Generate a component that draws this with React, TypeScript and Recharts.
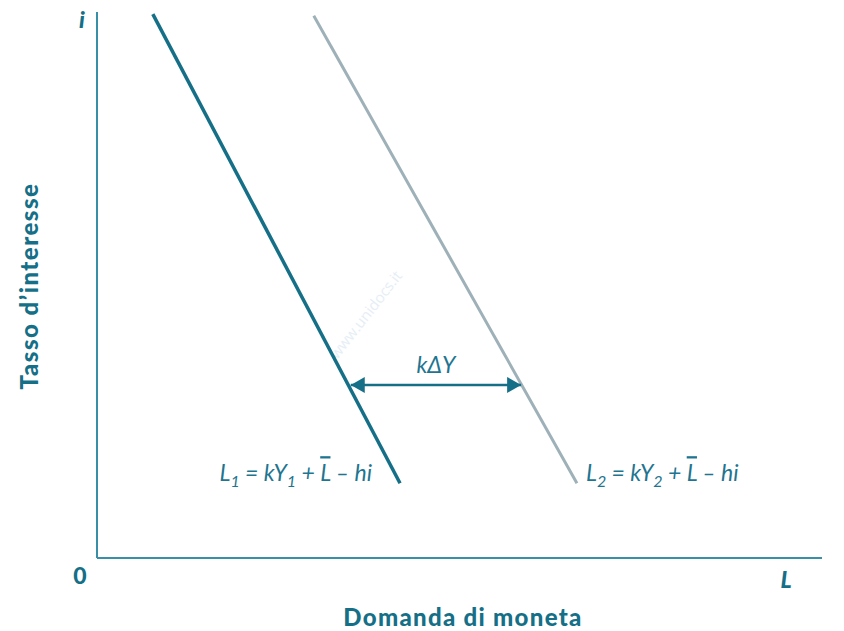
import { ComposedChart, Line, XAxis, YAxis, ReferenceDot, ReferenceLine } from "recharts"

// curve L1 and L2 endpoints (domain 0..100 on both axes)
const curveL1 = [
  { x: 7.7, y: 99.6 },
  { x: 41.8, y: 13.7 },
]
const curveL2 = [
  { x: 29.9, y: 99.3 },
  { x: 66.2, y: 13.7 },
]
// kΔY shift arrow
const shiftArrow = [
  { x: 35.0, y: 31.7 },
  { x: 58.5, y: 31.7 },
]
const shiftLabel = "kΔY"
const xTitle = "Domanda di moneta"
const yTitle = "Tasso d’interesse"

const AXIS = "#3a8fa8"
const DARK = "#156f87"
const GREY = "#9eb0b8"
const TXT = "#1f7590"
const mathFont = "Lato, 'Open Sans', sans-serif"

const ArrowHead = (props: any) => {
  const { cx, cy, index } = props
  if (cx == null || cy == null) return null
  const dir = index === 0 ? -1 : 1
  const pts = `${cx},${cy} ${cx - dir * 14},${cy - 8} ${cx - dir * 14},${cy + 8}`
  return <polygon key={`ah-${index}`} points={pts} fill={DARK} />
}

// equation label with subscript and bar over L
const Equation = ({ cx, cy, sub, anchor }: any) => (
  <text
    x={cx}
    y={cy}
    textAnchor={anchor}
    fontFamily={mathFont}
    fontStyle="italic"
    fontSize={23}
    fill={TXT}
  >
    <tspan>L</tspan>
    <tspan fontSize={16} dy={6}>{sub}</tspan>
    <tspan dy={-6}> = kY</tspan>
    <tspan fontSize={16} dy={6}>{sub}</tspan>
    <tspan dy={-6}> + </tspan>
    <tspan textDecoration="overline">L</tspan>
    <tspan> – hi</tspan>
  </text>
)

export default function App() {
  return (
    <div style={{ position: "absolute", left: 0, top: 0, width: 844, height: 631, background: "#fff" }}>
      <ComposedChart
        width={844}
        height={631}
        margin={{ top: 12, right: 22, bottom: 73, left: 97 }}
      >
        <XAxis type="number" dataKey="x" domain={[0, 100]} hide />
        <YAxis type="number" dataKey="y" domain={[0, 100]} hide />
        <ReferenceLine x={0} stroke={AXIS} strokeWidth={2} />
        <ReferenceLine y={0} stroke={AXIS} strokeWidth={2} />
        <Line data={curveL1} dataKey="y" stroke={DARK} strokeWidth={3.5} dot={false} isAnimationActive={false} />
        <Line data={curveL2} dataKey="y" stroke={GREY} strokeWidth={3} dot={false} isAnimationActive={false} />
        <Line
          data={shiftArrow}
          dataKey="y"
          stroke={DARK}
          strokeWidth={2.5}
          dot={<ArrowHead />}
          activeDot={false}
          isAnimationActive={false}
        />
        <ReferenceDot
          x={(shiftArrow[0].x + shiftArrow[1].x) / 2}
          y={shiftArrow[0].y}
          r={0}
          shape={(p: any) => (
            <text x={p.cx} y={p.cy - 12} textAnchor="middle" fontFamily={mathFont} fontStyle="italic" fontSize={23} fill={TXT}>
              {shiftLabel}
            </text>
          )}
        />
        <ReferenceDot
          x={curveL1[1].x}
          y={curveL1[1].y}
          r={0}
          shape={(p: any) => <Equation cx={p.cx - 28} cy={p.cy - 2} sub="1" anchor="end" />}
        />
        <ReferenceDot
          x={curveL2[1].x}
          y={curveL2[1].y}
          r={0}
          shape={(p: any) => <Equation cx={p.cx + 9} cy={p.cy - 2} sub="2" anchor="start" />}
        />
        <text x={80} y={584} textAnchor="middle" fontFamily="Lato, sans-serif" fontWeight={900} fontSize={23} fill={DARK}>0</text>
        <text x={82} y={28} textAnchor="middle" fontFamily="Lato, sans-serif" fontWeight={900} fontStyle="italic" fontSize={23} fill={DARK}>i</text>
        <text x={786} y={588} textAnchor="middle" fontFamily="Lato, sans-serif" fontWeight={900} fontStyle="italic" fontSize={23} fill={DARK}>L</text>
        <text x={463} y={626} textAnchor="middle" fontFamily="Lato, sans-serif" fontWeight={900} fontSize={24} letterSpacing={1.3} fill={DARK}>{xTitle}</text>
        <text
          x={38}
          y={286}
          textAnchor="middle"
          transform="rotate(-90 38 286)"
          fontFamily="Lato, sans-serif"
          fontWeight={900}
          fontSize={24}
          letterSpacing={1.5}
          fill={DARK}
        >
          {yTitle}
        </text>
        <text
          x={370}
          y={318}
          textAnchor="middle"
          transform="rotate(-52 370 318)"
          fontFamily="'Open Sans', sans-serif"
          fontSize={15}
          fill="#e6eef6"
        >
          www.unidocs.it
        </text>
      </ComposedChart>
    </div>
  )
}
